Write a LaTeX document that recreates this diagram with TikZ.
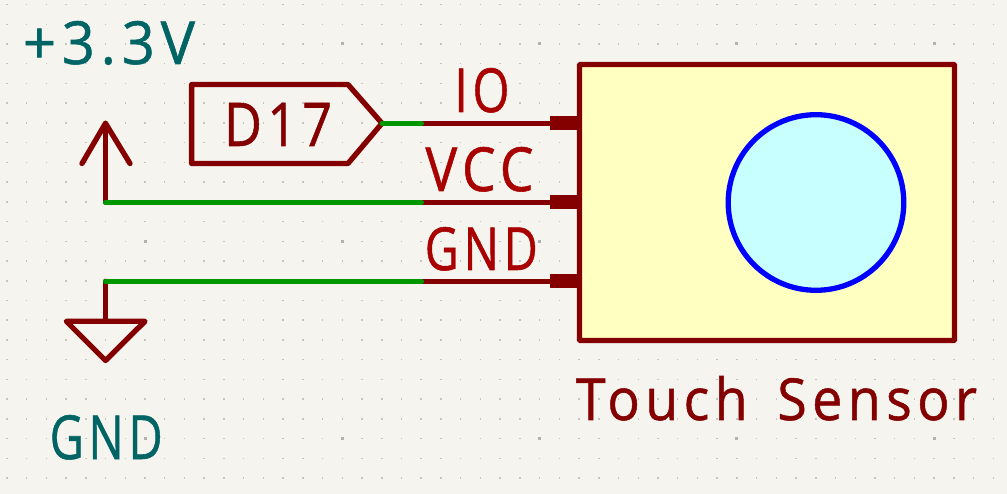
\documentclass[tikz,border=0pt]{standalone}
\usepackage{fontspec}
\usepackage{graphicx}
\setmainfont[LetterSpace=10,FakeBold=0.9]{Open Sans}
\definecolor{bgc}{HTML}{F5F4EF}
\definecolor{dotc}{HTML}{C4C4C0}
\definecolor{majc}{HTML}{B2B2B2}
\definecolor{symc}{HTML}{840000}
\definecolor{pinc}{HTML}{A90000}
\definecolor{wirec}{HTML}{009600}
\definecolor{powc}{HTML}{006464}
\definecolor{bodyc}{HTML}{FFFFC2}
\definecolor{padc}{HTML}{C8FFFF}
\definecolor{ringc}{HTML}{0000FF}
\newcommand{\fitlab}[3]{\resizebox{#1pt}{#2pt}{#3}}
\tikzset{
  x=1pt,y=-1pt,
  symline/.style={draw=symc,line width=5.3pt,line join=round,line cap=round},
  pinline/.style={draw=symc,line width=5pt},
  pinstub/.style={draw=symc,line width=13.6pt},
  wireline/.style={draw=wirec,line width=5.2pt,line cap=round},
  lab/.style={inner sep=0pt,outer sep=0pt,anchor=base},
  pinlab/.style={lab,text=pinc},
  powlab/.style={lab,text=powc},
  reflab/.style={lab,text=symc},
}
\begin{document}
\begin{tikzpicture}
\useasboundingbox (0,0) rectangle (1007,494);
\fill[bgc] (0,0) rectangle (1007,494);
% grid
\foreach \i in {-7,...,43}{
  \foreach \j in {-2,...,22}{
    \pgfmathsetmacro{\gx}{145+19.73*\i}
    \pgfmathsetmacro{\gy}{44+19.73*\j}
    \fill[dotc] (\gx-0.75,\gy-0.75) rectangle (\gx+0.75,\gy+0.75);
  }
}
\foreach \i in {0,...,4}{
  \foreach \j in {0,...,2}{
    \pgfmathsetmacro{\gx}{145+197.3*\i}
    \pgfmathsetmacro{\gy}{44+197.3*\j}
    \fill[majc] (\gx-1.5,\gy-1.5) rectangle (\gx+1.5,\gy+1.5);
  }
}
% anchors
\coordinate (pinA) at (579.5,123.3);
\coordinate (pinB) at (579.5,202.3);
\coordinate (pinC) at (579.5,281.3);
\coordinate (stubA) at (550,123.3);
\coordinate (stubB) at (550,202.3);
\coordinate (stubC) at (550,281.3);
\coordinate (endA) at (421.5,123.3);
\coordinate (endB) at (421.5,202.3);
\coordinate (endC) at (421.5,281.3);
\coordinate (labtip) at (382,123.3);
\coordinate (powj) at (105.5,202.3);
\coordinate (gndj) at (105.5,281.3);
\coordinate (powtop) at (105.5,123.3);
\coordinate (gndtop) at (105.5,321.3);
% pins
\draw[pinline] (endA) -- (pinA);
\draw[pinline] (endB) -- (pinB);
\draw[pinline] (endC) -- (pinC);
\draw[pinstub] (stubA) -- (pinA);
\draw[pinstub] (stubB) -- (pinB);
\draw[pinstub] (stubC) -- (pinC);
% sensor body
\node[draw=symc,fill=bodyc,line width=5.3pt,minimum width=375pt,minimum height=276pt,inner sep=0pt,rounded corners=0.8pt] (body) at (767,202.5) {};
\node[circle,draw=ringc,fill=padc,line width=5.3pt,minimum size=175.6pt,inner sep=0pt] (pad) at (816,202.5) {};
% power symbols
\draw[symline] (powj) -- (powtop);
\draw[symline] (82,163.5) -- (powtop) -- (130,163.5);
\draw[symline] (gndj) -- (gndtop);
\draw[symline] (66.3,321.3) -- (145,321.3) -- (105.5,360.5) -- cycle;
% global label
\draw[symline] (191.6,84.5) -- (348,84.5) -- (labtip) -- (348,163.5) -- (191.6,163.5) -- cycle;
% wires
\draw[wireline] (labtip) -- (endA);
\draw[wireline] (powj) -- (endB);
\draw[wireline] (gndj) -- (endC);
% text
\node[powlab] (t33) at (109,64) {\fitlab{172}{43}{+3.3V}};
\node[powlab] (tgnd) at (106.2,459) {\fitlab{113}{44}{GND}};
\node[reflab] (td17) at (278,146) {\fitlab{108}{43}{D17}};
\node[pinlab] (tio) at (482,112) {\fitlab{55}{44}{IO}};
\node[pinlab] (tvcc) at (479.5,191) {\fitlab{108}{44}{VCC}};
\node[pinlab] (tgndp) at (481.3,270) {\fitlab{113}{43}{GND}};
\node[reflab] (tname) at (776.5,420) {\fitlab{401}{44}{Touch\hspace{0.55em}Sensor}};
\end{tikzpicture}
\end{document}
